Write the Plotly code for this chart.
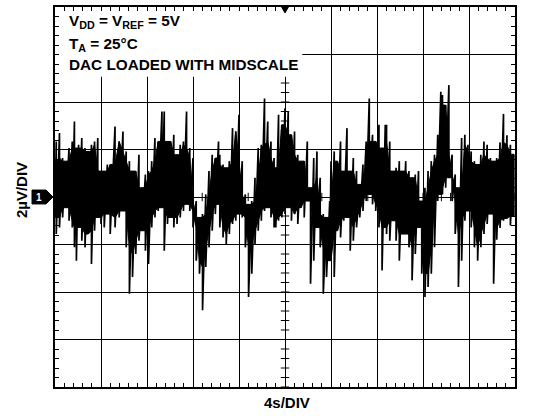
import plotly.graph_objects as go

# Scope capture: 10 x 8 divisions, 4 s/div horizontally, 2 uV/div vertically.
# The trace is a dense noise band, so it is kept as the upper and lower
# envelope at each sample time.

t_s = [
    0.00, 0.11, 0.39, 0.66, 0.94, 1.22, 1.50, 1.69, 1.86, 2.05,
    2.33, 2.61, 2.89, 3.17, 3.44, 3.72, 4.00, 4.28, 4.55, 4.80,
    5.22, 5.58, 5.91, 6.19, 6.47, 6.74, 7.02, 7.30, 7.58, 7.86,
    8.13, 8.41, 8.69, 8.97, 9.30, 9.50, 9.78, 10.06, 10.33, 10.61,
    10.89, 11.17, 11.44, 11.72, 12.00, 12.28, 12.56, 12.83, 13.11, 13.39,
    13.67, 13.94, 14.22, 14.33, 14.61, 14.89, 15.16, 15.44, 15.72, 16.00,
    16.28, 16.55, 16.83, 17.11, 17.39, 17.67, 17.94, 18.22, 18.50, 18.78,
    19.05, 19.20, 19.44, 19.72, 20.00, 20.28, 20.56, 20.83, 21.11, 21.39,
    21.67, 21.94, 22.22, 22.50, 22.78, 23.06, 23.33, 23.61, 23.89, 24.00,
    24.28, 24.56, 24.83, 25.11, 25.39, 25.67, 25.94, 26.22, 26.50, 26.78,
    27.06, 27.33, 27.61, 27.89, 28.17, 28.44, 28.72, 28.83, 29.11, 29.39,
    29.66, 29.94, 30.22, 30.50, 30.78, 31.05, 31.33, 31.61, 31.89, 32.17,
    32.44, 32.72, 33.00, 33.28, 33.55, 33.69, 33.97, 34.25, 34.53, 34.80,
    35.08, 35.36, 35.64, 35.91, 36.19, 36.47, 36.75, 37.03, 37.30, 37.58,
    37.86, 38.14, 38.41, 38.70, 39.00, 39.30, 39.60, 39.90,
]

v_hi_uV = [
    1.51, 2.34, 2.69, 1.64, 1.51, 2.06, 2.34, 3.18, 2.06, 2.20,
    2.48, 2.06, 1.92, 2.20, 2.34, 2.48, 1.09, 1.09, 1.37, 1.37,
    2.97, 2.34, 2.76, 1.92, 1.51, 1.09, 1.09, 1.78, 0.39, 0.95,
    1.09, 1.51, 2.48, 2.34, 3.60, 3.60, 2.34, 2.34, 2.62, 1.78,
    2.20, 2.34, 3.60, 2.06, 1.64, -0.17, -0.86, -0.72, 0.11, 1.09,
    1.78, 1.64, 2.34, 1.78, 1.37, 1.23, 1.51, 2.90, 2.76, 3.46,
    1.51, 0.11, -0.31, -0.17, 0.81, 2.06, 2.20, 4.15, 3.18, 2.34,
    1.64, 1.23, 3.46, 3.04, 3.74, 3.60, 2.62, 2.76, 1.78, 1.51,
    1.51, 2.34, 0.39, 1.64, 1.92, 0.81, -0.72, -0.86, -0.17, 1.51,
    1.92, 1.51, 2.34, 1.09, 2.90, 1.09, 1.64, 1.09, 0.53, 1.37,
    2.34, 4.15, 2.62, 2.34, 3.04, 2.06, 3.04, 3.04, 2.34, 1.09,
    1.23, 1.51, 1.09, 1.51, 1.09, 0.81, 0.95, 1.09, -0.17, 0.39,
    1.09, 1.51, 1.78, 2.62, 4.43, 4.29, 3.87, 4.71, 1.78, 0.95,
    0.39, 2.48, 2.62, 2.20, 1.92, 1.51, 1.37, 1.78, 2.34, 2.20,
    1.64, 1.51, 1.64, 2.30, 3.50, 2.60, 2.20, 1.80,
]

v_lo_uV = [
    -0.86, -1.56, -1.28, -0.86, -0.45, -1.00, -1.28, -2.12, -2.68, -1.28,
    -1.84, -2.12, -1.56, -2.82, -1.42, -0.86, -1.14, -1.28, -0.72, -1.56,
    -1.28, -0.86, -0.59, -2.12, -4.07, -3.37, -2.40, -1.84, -1.42, -2.26,
    -2.82, -1.28, -0.86, -0.59, -0.45, -2.26, -1.14, -0.86, -1.28, -1.14,
    -0.86, -0.59, -0.31, -0.59, -1.28, -2.68, -3.23, -4.77, -2.95, -2.12,
    -1.42, -0.72, -0.31, -1.28, -1.70, -1.98, -1.56, -1.14, -1.00, -0.72,
    -0.86, -2.12, -4.21, -3.23, -1.98, -1.42, -1.00, -0.59, -0.45, -0.86,
    -1.28, -1.28, -1.00, -0.86, -0.72, -0.45, -1.00, -0.72, -1.14, -0.45,
    -0.86, -0.17, -3.65, -2.68, -1.28, -2.12, -4.07, -3.37, -2.68, -2.68,
    -3.37, -1.42, -1.70, -1.00, -0.86, -2.26, -1.84, -1.28, -0.86, -0.59,
    -0.17, 0.11, -0.31, -0.59, -1.28, -3.09, -1.28, -1.56, -1.84, -1.00,
    -1.84, -2.68, -1.56, -1.56, -2.12, -3.51, -2.40, -1.28, -3.23, -4.21,
    -3.79, -3.23, -2.12, -0.17, 0.11, 0.11, 0.39, 0.81, -0.17, -1.56,
    -3.79, -2.68, -1.00, -0.59, -1.28, -2.12, -2.68, -2.12, -1.56, -1.14,
    -0.72, -3.65, -1.80, -1.30, -1.00, -0.90, -1.20, -0.80,
]

# page geometry of the plot frame (pixels)
LEFT, RIGHT, TOP, BOTTOM = 55, 515, 5, 387


def px_x(x):
    return (x - LEFT) / (RIGHT - LEFT)


def px_y(y):
    return (BOTTOM - y) / (BOTTOM - TOP)


n = len(t_s)
# solid core of the band: neighbouring envelope values with single spikes removed
core_hi = [min(v_hi_uV[max(i - 1, 0):i + 2]) for i in range(n)]
core_lo = [max(v_lo_uV[max(i - 1, 0):i + 2]) for i in range(n)]

# zig-zag between the envelope values gives the thin spikes around the core
trace_x, trace_y = [], []
for t, hi, lo in zip(t_s, v_hi_uV, v_lo_uV):
    trace_x += [t, t]
    trace_y += [hi, lo]

fig = go.Figure()

fig.add_trace(go.Scatter(
    x=t_s, y=core_lo, mode="lines", line=dict(color="black", width=1),
    hoverinfo="skip", showlegend=False
))
fig.add_trace(go.Scatter(
    x=t_s, y=core_hi, mode="lines", line=dict(color="black", width=1),
    fill="tonexty", fillcolor="black",
    hoverinfo="skip", showlegend=False
))
fig.add_trace(go.Scatter(
    x=trace_x, y=trace_y, mode="lines",
    line=dict(color="black", width=1.7),
    hoverinfo="skip", showlegend=False
))

# small tick marks on the centre cross-hair
cx = [i * 0.8 for i in range(51)]
cy = [i * 0.4 - 8 for i in range(41) if i * 0.4 - 8 < 5]
fig.add_trace(go.Scatter(
    x=cx, y=[0] * len(cx), mode="markers",
    marker=dict(symbol="line-ns", size=6, line=dict(color="black", width=1)),
    hoverinfo="skip", showlegend=False
))
fig.add_trace(go.Scatter(
    x=[20] * len(cy), y=cy, mode="markers",
    marker=dict(symbol="line-ew", size=6, line=dict(color="black", width=1)),
    hoverinfo="skip", showlegend=False
))

axis_style = dict(
    showgrid=True, gridcolor="black", gridwidth=1.2,
    showline=True, linecolor="black", linewidth=2, mirror="allticks",
    ticks="inside", ticklen=4, tickcolor="black",
    showticklabels=False, zeroline=False, fixedrange=True
)

fig.update_layout(
    width=543, height=416,
    margin=dict(l=LEFT, r=543 - RIGHT, t=TOP, b=416 - BOTTOM),
    paper_bgcolor="white", plot_bgcolor="white",
    xaxis=dict(range=[0, 40], tick0=0, dtick=4,
               minor=dict(dtick=0.8, ticks="inside", ticklen=4, tickcolor="black"),
               **axis_style),
    yaxis=dict(range=[-8, 8], tick0=0, dtick=2,
               minor=dict(dtick=0.4, ticks="inside", ticklen=4, tickcolor="black"),
               **axis_style),
    font=dict(family="Liberation Sans, Arial, sans-serif", color="black"),
)

# white panel behind the test-condition text hides the grid there
fig.add_shape(type="rect", xref="x", yref="y", x0=0, x1=21.5, y0=5.06, y1=8,
              fillcolor="white", line=dict(width=0), layer="between")

# trigger marker at top centre and channel marker on the left
fig.add_shape(type="path", xref="paper", yref="paper",
              path=f"M {px_x(281)},{px_y(4)} L {px_x(289)},{px_y(4)} L {px_x(285)},{px_y(11)} Z",
              fillcolor="black", line=dict(color="black", width=1), layer="above")
fig.add_shape(type="path", xref="paper", yref="paper",
              path=(f"M {px_x(32)},{px_y(189)} L {px_x(46)},{px_y(189)} L {px_x(53)},{px_y(196)} "
                    f"L {px_x(46)},{px_y(203)} L {px_x(32)},{px_y(203)} Z"),
              fillcolor="black", line=dict(color="black", width=1), layer="above")

notes = [
    ("<b>V<sub>DD</sub> = V<sub>REF</sub> = 5V</b>", 20),
    ("<b>T<sub>A</sub> = 25°C</b>", 43),
    ("<b>DAC LOADED WITH MIDSCALE</b>", 63),
]
for text, ypx in notes:
    fig.add_annotation(text=text, xref="paper", yref="paper",
                       x=px_x(67), y=px_y(ypx), xanchor="left", yanchor="middle",
                       showarrow=False, font=dict(size=15.3))

fig.add_annotation(text="<b>1</b>", xref="paper", yref="paper",
                   x=px_x(39), y=px_y(196), xanchor="center", yanchor="middle",
                   showarrow=False, font=dict(size=10, color="white"))
fig.add_annotation(text="<b>2µV/DIV</b>", xref="paper", yref="paper",
                   x=px_x(21), y=px_y(189), xanchor="center", yanchor="middle",
                   textangle=-90, showarrow=False, font=dict(size=15))
fig.add_annotation(text="<b>4s/DIV</b>", xref="paper", yref="paper",
                   x=px_x(287), y=px_y(403), xanchor="center", yanchor="middle",
                   showarrow=False, font=dict(size=15))

# the page body has a default 8px margin; drop it so the figure sits at 0,0
fig.write_html("out.html", config={"displayModeBar": False},
               post_script="document.body.style.margin = '0';")
